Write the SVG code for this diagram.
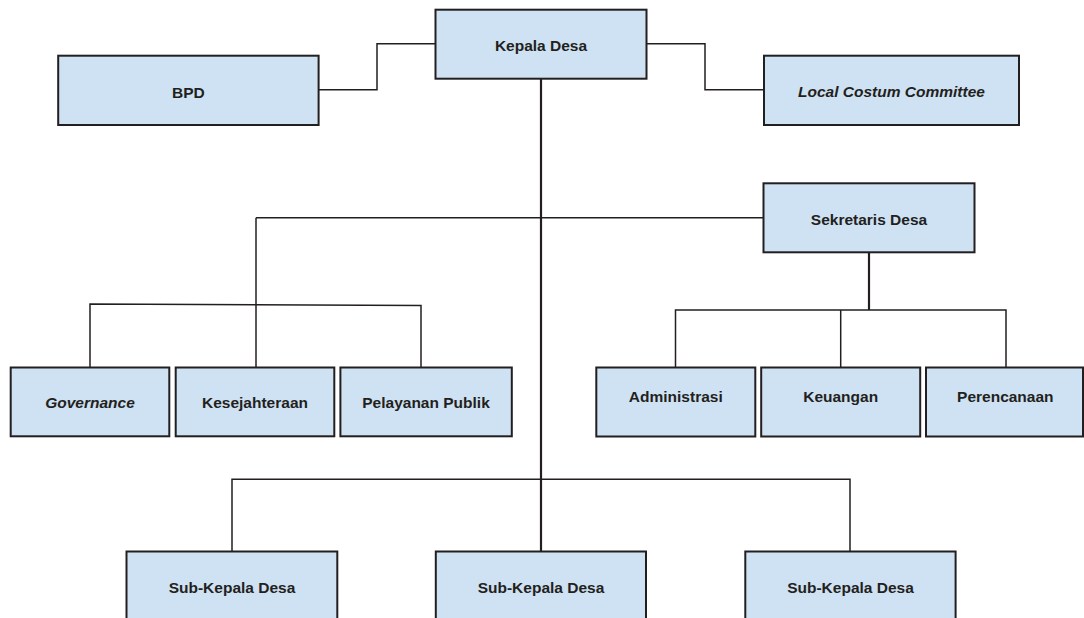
<svg xmlns="http://www.w3.org/2000/svg" width="1084" height="618" viewBox="0 0 1084 618">
<style>
.box{fill:#cfe2f3;stroke:#231f20;stroke-width:2}
.lbl{font-family:"Liberation Sans",Arial,sans-serif;font-weight:bold;font-size:15.5px;fill:#231f20;text-anchor:middle;dominant-baseline:central}
.it{font-style:italic}
.ln{fill:none;stroke:#231f20;stroke-width:1.5}
.main{fill:none;stroke:#231f20;stroke-width:2.2}
</style>
<rect width="1084" height="618" fill="#ffffff"/>
<g id="connectors">
<polyline class="ln" points="318.6,89.7 377,89.7 377,43.7 435.5,43.7"/>
<polyline class="ln" points="646.5,43.7 705,43.7 705,89.7 764,89.7"/>
<line class="main" x1="541" y1="79" x2="541" y2="551.5"/>
<line class="ln" x1="256" y1="217.7" x2="764" y2="217.7"/>
<line class="ln" x1="256" y1="217.7" x2="256" y2="367.5"/>
<polyline class="ln" points="90,367.5 90,304 421,305.5 421,367.5"/>
<line class="main" x1="869" y1="252" x2="869" y2="310"/>
<polyline class="ln" points="675.5,367.5 675.5,310 1006,310 1006,367.5"/>
<line class="ln" x1="840.7" y1="310" x2="840.7" y2="367.5"/>
<polyline class="ln" points="232,551.5 232,479.3 850,479.3 850,551.5"/>
</g>
<g id="kepala-desa"><rect class="box" x="435.5" y="9.7" width="211" height="69"/><text class="lbl" x="541" y="45.5">Kepala Desa</text></g>
<g id="bpd"><rect class="box" x="58.2" y="55.7" width="260.4" height="69.3"/><text class="lbl" x="188.4" y="92.5">BPD</text></g>
<g id="lcc"><rect class="box" x="764" y="55.7" width="255" height="69.3"/><text class="lbl it" x="891.5" y="91">Local Costum Committee</text></g>
<g id="sekretaris-desa"><rect class="box" x="763.5" y="183.3" width="211" height="69"/><text class="lbl" x="869" y="219">Sekretaris Desa</text></g>
<g id="governance"><rect class="box" x="10.7" y="367.5" width="158.6" height="68.8"/><text class="lbl it" x="90" y="402.7">Governance</text></g>
<g id="kesejahteraan"><rect class="box" x="175.7" y="367.5" width="158.6" height="68.8"/><text class="lbl" x="255" y="402.7">Kesejahteraan</text></g>
<g id="pelayanan-publik"><rect class="box" x="340.4" y="367.5" width="171.4" height="68.8"/><text class="lbl" x="426" y="402.7">Pelayanan Publik</text></g>
<g id="administrasi"><rect class="box" x="596.3" y="367.5" width="159" height="69"/><text class="lbl" x="675.8" y="396.7">Administrasi</text></g>
<g id="keuangan"><rect class="box" x="761.2" y="367.5" width="159" height="69"/><text class="lbl" x="840.7" y="396.7">Keuangan</text></g>
<g id="perencanaan"><rect class="box" x="926" y="367.5" width="157" height="69"/><text class="lbl" x="1005.3" y="396.3">Perencanaan</text></g>
<g id="sub-kepala-desa-1"><rect class="box" x="126.5" y="551.5" width="210.8" height="90"/><text class="lbl" x="232" y="587.7">Sub-Kepala Desa</text></g>
<g id="sub-kepala-desa-2"><rect class="box" x="435.8" y="551.5" width="210.2" height="90"/><text class="lbl" x="541" y="587.7">Sub-Kepala Desa</text></g>
<g id="sub-kepala-desa-3"><rect class="box" x="745.3" y="551.5" width="210.3" height="90"/><text class="lbl" x="850.5" y="587.7">Sub-Kepala Desa</text></g>
</svg>
